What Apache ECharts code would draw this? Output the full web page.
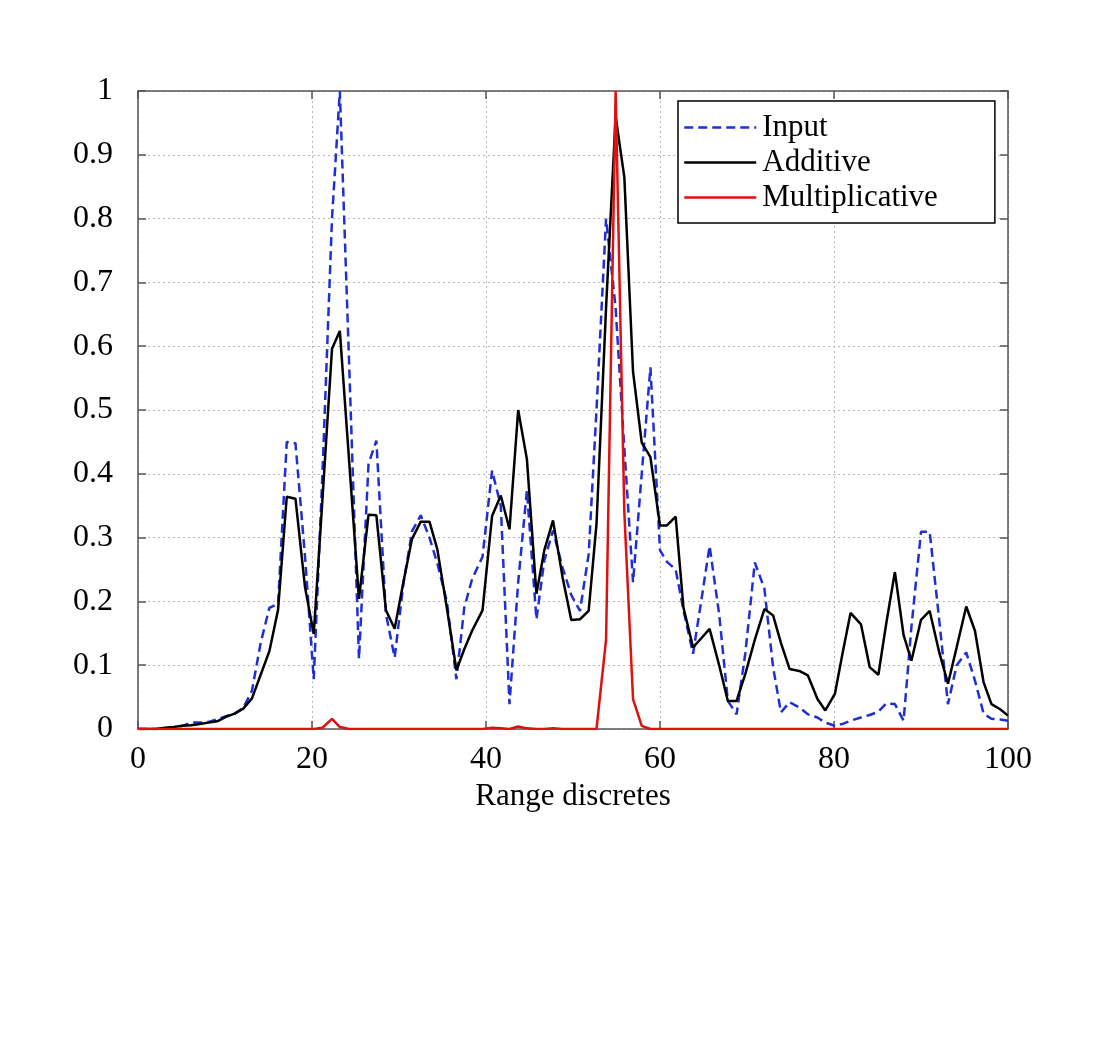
<!DOCTYPE html>
<html>
<head>
<meta charset="utf-8">
<script src="https://cdn.jsdelivr.net/npm/echarts@6/dist/echarts.min.js"></script>
<style>
html,body{margin:0;padding:0;background:#fff;}
#chart{width:1100px;height:1046px;}
</style>
</head>
<body>
<div id="chart"></div>
<script>
// Range discrete positions of the samples
var xs = [0, 1.1, 2.1, 3.1, 4.1, 5.1, 6.1, 7.1, 8.1, 9.1,
  10.1, 11.1, 12.1, 13.1, 14.1, 15.1, 16.1, 17.1, 18.1, 19.2,
  20.2, 21.2, 22.3, 23.2, 24.3, 25.4, 26.5, 27.4, 28.5, 29.5,
  30.5, 31.5, 32.5, 33.5, 34.4, 35.5, 36.6, 37.5, 38.4, 39.6,
  40.7, 41.7, 42.7, 43.7, 44.7, 45.8, 46.7, 47.7, 48.8, 49.8,
  50.8, 51.8, 52.7, 53.8, 54.9, 55.9, 56.9, 57.9, 58.9, 60.0,
  60.8, 61.8, 62.7, 63.8, 64.8, 65.7, 66.8, 67.8, 68.8, 69.8,
  70.9, 72.0, 73.0, 73.9, 74.9, 76.0, 77.0, 78.1, 79.0, 80.1,
  81.0, 81.9, 83.1, 84.1, 85.1, 86.0, 87.0, 88.0, 88.9, 90.0,
  91.0, 92.1, 93.1, 94.1, 95.2, 96.2, 97.2, 98.1, 99.1, 100];

var inputVals = [0, 0, 0, 0.001, 0.002, 0.005, 0.01, 0.01, 0.011, 0.015,
  0.02, 0.024, 0.033, 0.06, 0.135, 0.19, 0.196, 0.45, 0.448, 0.27,
  0.078, 0.40, 0.80, 1.0, 0.56, 0.11, 0.416, 0.452, 0.18, 0.112,
  0.227, 0.31, 0.335, 0.30, 0.26, 0.2, 0.078, 0.19, 0.235, 0.27,
  0.405, 0.35, 0.039, 0.23, 0.374, 0.172, 0.264, 0.311, 0.253, 0.21,
  0.185, 0.274, 0.5, 0.80, 0.66, 0.44, 0.23, 0.40, 0.567, 0.28,
  0.262, 0.25, 0.186, 0.118, 0.206, 0.287, 0.18, 0.044, 0.023, 0.118,
  0.261, 0.22, 0.097, 0.026, 0.042, 0.034, 0.023, 0.018, 0.01, 0.005,
  0.008, 0.013, 0.018, 0.022, 0.027, 0.04, 0.039, 0.013, 0.16, 0.309,
  0.309, 0.17, 0.039, 0.10, 0.12, 0.076, 0.024, 0.016, 0.015, 0.013];

var additiveVals = [0, 0, 0, 0.002, 0.003, 0.005, 0.006, 0.008, 0.01, 0.012,
  0.019, 0.024, 0.032, 0.048, 0.085, 0.122, 0.187, 0.364, 0.361, 0.222,
  0.149, 0.36, 0.596, 0.624, 0.414, 0.204, 0.336, 0.335, 0.186, 0.157,
  0.23, 0.298, 0.325, 0.325, 0.282, 0.19, 0.092, 0.125, 0.154, 0.186,
  0.334, 0.366, 0.313, 0.5, 0.423, 0.212, 0.28, 0.327, 0.238, 0.171,
  0.172, 0.185, 0.321, 0.66, 0.96, 0.865, 0.56, 0.449, 0.426, 0.319,
  0.319, 0.333, 0.19, 0.128, 0.143, 0.157, 0.1, 0.044, 0.044, 0.086,
  0.14, 0.188, 0.178, 0.135, 0.094, 0.091, 0.084, 0.047, 0.029, 0.055,
  0.12, 0.182, 0.164, 0.097, 0.085, 0.165, 0.246, 0.147, 0.107, 0.171,
  0.185, 0.12, 0.071, 0.128, 0.192, 0.154, 0.073, 0.039, 0.031, 0.021];

var multiplicativeVals = [0, 0, 0, 0, 0, 0, 0, 0, 0, 0,
  0, 0, 0, 0, 0, 0, 0, 0, 0, 0,
  0, 0.002, 0.016, 0.003, 0, 0, 0, 0, 0, 0,
  0, 0, 0, 0, 0, 0, 0, 0, 0, 0,
  0.002, 0.001, 0, 0.004, 0.001, 0, 0, 0.001, 0, 0,
  0, 0, 0, 0.14, 1.0, 0.34, 0.047, 0.005, 0, 0,
  0, 0, 0, 0, 0, 0, 0, 0, 0, 0,
  0, 0, 0, 0, 0, 0, 0, 0, 0, 0,
  0, 0, 0, 0, 0, 0, 0, 0, 0, 0,
  0, 0, 0, 0, 0, 0, 0, 0, 0, 0];

var seriesNames = ['Input', 'Additive', 'Multiplicative'];
var xTitle = 'Range discretes';

function pairs(vals) { return xs.map(function (x, i) { return [x, vals[i]]; }); }

var FONT = '"Liberation Serif", "DejaVu Serif", serif';
var chart = echarts.init(document.getElementById('chart'), null, {renderer: 'canvas'});
var axisLineStyle = {color: '#555', width: 1.5};
chart.setOption({
  backgroundColor: '#ffffff',
  animation: false,
  grid: {left: 138, top: 91, width: 870, height: 638, containLabel: false},
  legend: {
    orient: 'vertical',
    left: 678, top: 101,
    padding: [9, 57, 8, 5],
    itemGap: 0,
    itemWidth: 72,
    itemHeight: 14,
    backgroundColor: '#fff',
    borderColor: '#000',
    borderWidth: 1.5,
    borderRadius: 0,
    itemStyle: {opacity: 0},
    lineStyle: {width: 2.5},
    textStyle: {fontFamily: FONT, fontSize: 31, color: '#000', lineHeight: 35, padding: [0, 0, 0, 1]},
    data: seriesNames
  },
  xAxis: [{
    type: 'value', min: 0, max: 100, interval: 20,
    name: xTitle, nameLocation: 'middle', nameGap: 46,
    nameTextStyle: {fontFamily: FONT, fontSize: 31, color: '#000'},
    axisLine: {show: true, onZero: false, lineStyle: axisLineStyle},
    axisTick: {show: true, inside: true, length: 8, lineStyle: axisLineStyle},
    axisLabel: {fontFamily: FONT, fontSize: 32, color: '#000', margin: 15},
    splitLine: {show: true, lineStyle: {color: '#b8b8b8', type: [2, 3], width: 1}}
  }, {
    type: 'value', min: 0, max: 100, interval: 20, position: 'top',
    axisLine: {show: true, onZero: false, lineStyle: axisLineStyle},
    axisTick: {show: true, inside: true, length: 8, lineStyle: axisLineStyle},
    axisLabel: {show: false}, splitLine: {show: false}
  }],
  yAxis: [{
    type: 'value', min: 0, max: 1, interval: 0.1,
    axisLine: {show: true, onZero: false, lineStyle: axisLineStyle},
    axisTick: {show: true, inside: true, length: 8, lineStyle: axisLineStyle},
    axisLabel: {fontFamily: FONT, fontSize: 32, color: '#000', margin: 25,
      formatter: function (v) { var r = Math.round(v * 10) / 10; return (r === 0 || r === 1) ? String(r) : r.toFixed(1); }},
    splitLine: {show: true, lineStyle: {color: '#b8b8b8', type: [2, 3], width: 1}}
  }, {
    type: 'value', min: 0, max: 1, interval: 0.1, position: 'right',
    axisLine: {show: true, onZero: false, lineStyle: axisLineStyle},
    axisTick: {show: true, inside: true, length: 8, lineStyle: axisLineStyle},
    axisLabel: {show: false}, splitLine: {show: false}
  }],
  series: [{
    name: seriesNames[0], type: 'line', data: pairs(inputVals),
    showSymbol: false, symbol: 'none', z: 2,
    lineStyle: {color: '#1f2fd6', width: 2.5, type: [9, 5]},
    itemStyle: {color: '#1f2fd6'}
  }, {
    name: seriesNames[1], type: 'line', data: pairs(additiveVals),
    showSymbol: false, symbol: 'none', z: 3,
    lineStyle: {color: '#000000', width: 2.5},
    itemStyle: {color: '#000000'}
  }, {
    name: seriesNames[2], type: 'line', data: pairs(multiplicativeVals),
    showSymbol: false, symbol: 'none', z: 4,
    lineStyle: {color: '#e01010', width: 2.5},
    itemStyle: {color: '#e01010'}
  }]
});
</script>
</body>
</html>
